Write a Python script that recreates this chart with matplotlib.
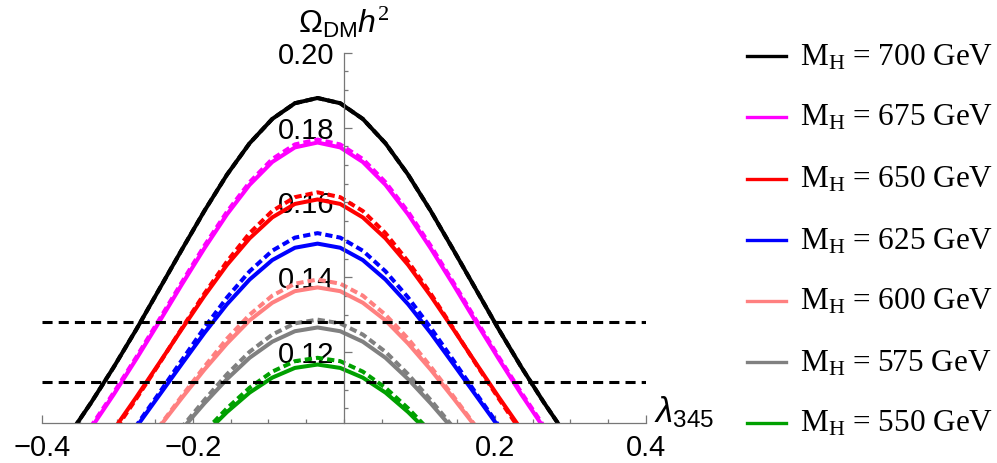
import numpy as np
import matplotlib.pyplot as plt
from matplotlib.lines import Line2D

plt.rcParams['font.family'] = 'Liberation Sans'
plt.rcParams['mathtext.fontset'] = 'custom'
plt.rcParams['mathtext.rm'] = 'Liberation Serif'
plt.rcParams['mathtext.sf'] = 'Liberation Sans'
plt.rcParams['mathtext.it'] = 'Liberation Sans:italic'

# lambda_345 grid (curves centred near -0.035)
lam = [-0.395, -0.365, -0.335, -0.305, -0.275, -0.245, -0.215, -0.185, -0.155, -0.125,
       -0.095, -0.065, -0.035, -0.005, 0.025, 0.055, 0.085, 0.115, 0.145, 0.175,
       0.205, 0.235, 0.265, 0.295, 0.325]

# Omega h^2, solid and dashed curves for each M_H
om700 = [.0894, .0976, .1065, .1160, .1261, .1367, .1473, .1577, .1674, .1758, .1823, .1865, .1879,
         .1865, .1823, .1758, .1674, .1577, .1473, .1367, .1261, .1160, .1065, .0976, .0894]
om700_d = om700
om675 = [.0838, .0914, .0997, .1087, .1182, .1280, .1380, .1477, .1568, .1647, .1708, .1747, .1760,
         .1747, .1708, .1647, .1568, .1477, .1380, .1280, .1182, .1087, .0997, .0914, .0838]
om675_d = [.0841, .0918, .1002, .1092, .1187, .1286, .1386, .1484, .1575, .1654, .1716, .1755, .1768,
           .1755, .1716, .1654, .1575, .1484, .1386, .1286, .1187, .1092, .1002, .0918, .0841]
om650 = [.0765, .0835, .0911, .0993, .1080, .1170, .1261, .1350, .1433, .1504, .1560, .1596, .1608,
         .1596, .1560, .1504, .1433, .1350, .1261, .1170, .1080, .0993, .0911, .0835, .0765]
om650_d = [.0756, .0826, .0903, .0987, .1076, .1168, .1263, .1356, .1442, .1518, .1577, .1614, .1627,
           .1614, .1577, .1518, .1442, .1356, .1263, .1168, .1076, .0987, .0903, .0826, .0756]
om625 = [.0709, .0774, .0844, .0920, .1000, .1084, .1168, .1251, .1328, .1394, .1446, .1479, .1490,
         .1479, .1446, .1394, .1328, .1251, .1168, .1084, .1000, .0920, .0844, .0774, .0709]
om625_d = [.0705, .0771, .0843, .0921, .1004, .1090, .1178, .1265, .1346, .1416, .1471, .1506, .1518,
           .1506, .1471, .1416, .1346, .1265, .1178, .1090, .1004, .0921, .0843, .0771, .0705]
om600 = [.0653, .0713, .0778, .0848, .0922, .0999, .1077, .1153, .1223, .1285, .1332, .1363, .1373,
         .1363, .1332, .1285, .1223, .1153, .1077, .0999, .0922, .0848, .0778, .0713, .0653]
om600_d = [.0647, .0708, .0774, .0846, .0922, .1001, .1082, .1161, .1236, .1300, .1351, .1383, .1394,
           .1383, .1351, .1300, .1236, .1161, .1082, .1001, .0922, .0846, .0774, .0708, .0647]
om575 = [.0602, .0658, .0717, .0782, .0850, .0921, .0993, .1063, .1128, .1185, .1228, .1256, .1266,
         .1256, .1228, .1185, .1128, .1063, .0993, .0921, .0850, .0782, .0717, .0658, .0602]
om575_d = [.0598, .0654, .0715, .0781, .0851, .0924, .0999, .1072, .1141, .1201, .1247, .1277, .1287,
           .1277, .1247, .1201, .1141, .1072, .0999, .0924, .0851, .0781, .0715, .0654, .0598]
om550 = [.0555, .0606, .0661, .0721, .0783, .0849, .0915, .0980, .1040, .1092, .1132, .1158, .1167,
         .1158, .1132, .1092, .1040, .0980, .0915, .0849, .0783, .0721, .0661, .0606, .0555]
om550_d = [.0550, .0602, .0658, .0719, .0783, .0851, .0920, .0987, .1050, .1105, .1148, .1176, .1185,
           .1176, .1148, .1105, .1050, .0987, .0920, .0851, .0783, .0719, .0658, .0602, .0550]

masses = [700, 675, 650, 625, 600, 575, 550]
solid = [om700, om675, om650, om625, om600, om575, om550]
dashed = [om700_d, om675_d, om650_d, om625_d, om600_d, om575_d, om550_d]
colors = ['black', '#ff00ff', '#ff0000', '#0000ff', '#ff8080', '#808080', '#00a000']

# relic density band
planck = [0.1120, 0.1281]

fig = plt.figure(figsize=(9.97, 4.63), dpi=100)
ax = fig.add_axes([0.0421, 0.0857, 0.6058, 0.8005])

for s, d, c in zip(solid, dashed, colors):
    ax.plot(lam, s, color=c, lw=2.9, solid_joinstyle='round')
    ax.plot(lam, d, color=c, lw=2.9, ls=(0, (1.8, 1.0)))

for p in planck:
    ax.axhline(p, color='black', lw=2.2, ls=(0, (3.3, 2.0)))

ax.set_xlim(-0.4, 0.4)
ax.set_ylim(0.101, 0.20)

for side in ['top', 'right']:
    ax.spines[side].set_visible(False)
ax.spines['left'].set_position(('data', 0))
for side in ['left', 'bottom']:
    ax.spines[side].set_color('#777777')
    ax.spines[side].set_linewidth(0.9)

ax.set_xticks([-0.4, -0.2, 0.2, 0.4])
ax.set_xticklabels(['\u22120.4', '\u22120.2', '0.2', '0.4'])
ax.set_xticks(np.arange(-0.4, 0.401, 0.05), minor=True)
ax.set_yticks([0.12, 0.14, 0.16, 0.18, 0.20])
ax.set_yticklabels(['0.12', '0.14', '0.16', '0.18', '0.20'])
ax.set_yticks(np.arange(0.105, 0.2001, 0.005), minor=True)
ax.tick_params(which='both', direction='in', color='#777777', width=0.9, labelsize=21)
ax.tick_params(which='major', length=5.5)
ax.tick_params(which='minor', length=3)
ax.tick_params(axis='x', pad=8)
ax.tick_params(axis='y', pad=7)

ax.text(0, 1.082, r'$\mathsf{\Omega_{DM}}h^2$', transform=ax.get_xaxis_transform(),
        ha='center', va='center', fontsize=23)
ax.text(1.013, 0.03, r'$\lambda_{\mathsf{345}}$', transform=ax.transAxes,
        ha='left', va='center', fontsize=25)

# legend drawn by hand to match the spacing
row_y = [56, 117, 179, 240, 301, 362, 423]
for m, c, yp in zip(masses, colors, row_y):
    yf = 1 - yp / 463
    fig.add_artist(Line2D([0.749, 0.788], [yf, yf], color=c, lw=2.4, transform=fig.transFigure))
    fig.text(0.8024, yf - 9 / 463, r'$\mathrm{M_H}$ = %d GeV' % m, family='Liberation Serif',
             fontsize=22.5, ha='left', va='baseline')

fig.savefig('out.png', dpi=100)
